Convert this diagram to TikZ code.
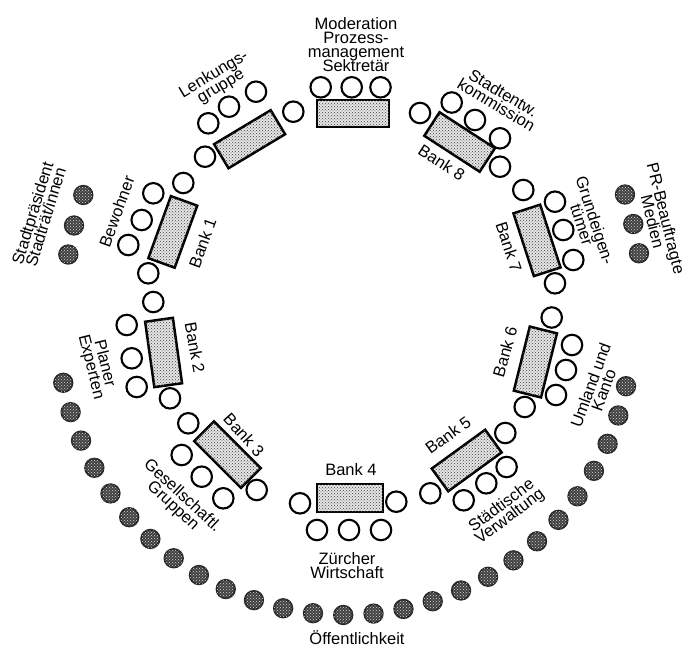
\documentclass[tikz,border=0pt]{standalone}
\usepackage{fontspec}
\setmainfont{Liberation Sans}
\usetikzlibrary{patterns}
\lineskiplimit=-100pt
\begin{document}
\begin{tikzpicture}[x=1pt,y=-1pt,
  chair/.style={circle,draw,line width=2.1pt,minimum size=20.5pt,inner sep=0pt,fill=white},
  pub/.style={circle,draw=black!85,line width=1.8pt,minimum size=18.5pt,inner sep=0pt,fill=black!75,postaction={pattern=crosshatch dots,pattern color=black!15}},
  tbl/.style={rectangle,draw,line width=2.5pt,minimum width=66pt,minimum height=28pt,inner sep=0pt,fill=black!10,postaction={pattern=crosshatch dots,pattern color=black!75}},
  lbl/.style={font=\fontsize{16.5}{13.8}\selectfont,inner sep=0pt,align=center}]
\useasboundingbox (0,0) rectangle (686,648);
\fill[white] (0,0) rectangle (686,648);
% tables
\node[tbl,minimum width=72pt,minimum height=27pt] (mod) at (352.8,113.3) {};
\node[tbl,rotate=31] (lenk) at (249.6,139.2) {};
\node[tbl,rotate=70] (b1) at (172.8,231.9) {};
\node[tbl,rotate=98] (b2) at (163.6,352.5) {};
\node[tbl,rotate=-45] (b3) at (227.5,454.6) {};
\node[tbl] (b4) at (350,498) {};
\node[tbl,rotate=36] (b5) at (466.7,460.5) {};
\node[tbl,rotate=76] (b6) at (535.4,362) {};
\node[tbl,rotate=108] (b7) at (537,240.4) {};
\node[tbl,rotate=-33] (b8) at (459.6,142) {};
% chairs
\foreach \n/\x/\y in {
  m1/320.7/87.3, m2/351.7/87.3, m3/380.5/87.3,
  r1/293.3/111.7, r2/420/113,
  l1/208.3/123.3, l2/229/106.7, l3/256/91.7,
  r3/205/156.7, r4/183.3/183,
  a1/153.3/193.3, a2/141.7/220, a3/128.3/245,
  r5/148.3/273.3, r6/153.3/302,
  c1/126.7/325, c2/131.7/358.3, c3/136.7/387,
  r7/170/398.3, r8/188.3/423.3,
  e1/181.7/455, e2/201.7/476.7, e3/223.3/498.3,
  r9/256.7/490, r10/300/503.3,
  f1/317/530, f2/349/530, f3/381/530,
  r11/396.3/501.7, r12/430.3/493.3,
  g1/463.7/500.3, g2/486.3/483.3, g3/506.6/467,
  r13/505.3/433, r14/524.7/407,
  h1/556/395, h2/566/370, h3/572/345,
  r15/551.7/317.5, r16/555/283.3,
  k1/573.3/260, k2/563.3/230, k3/555/201.7,
  r17/523.3/190, r18/500/166.7,
  n1/500/138.3, n2/475/120, n3/451.7/102.5}
  \node[chair] (\n) at (\x,\y) {};
% public
\foreach \n/\x/\y in {sl1/83.3/195, sl2/74/225.5, sl3/68.3/254.5,
  sr1/625/194.5, sr2/633.3/224, sr3/639/253.3}
  \node[pub] (\n) at (\x,\y) {};
\foreach \i in {0,...,26}{
  \pgfmathsetmacro{\ang}{191+6.05*\i}
  \node[pub] (d\i) at ({345+287*cos(\ang)},{328-287*sin(\ang)}) {};
}
% labels
\node[lbl] (tmod) at (356,44.5) {Moderation\\Prozess-\\management\\Sektretär};
\node[lbl,rotate=31] (tlenk) at (217.5,80.5) {Lenkungs-\\gruppe};
\node[lbl,rotate=-31] (tstadt) at (500,99) {Stadtentw.\\kommission};
\node[lbl,rotate=-33] (tb8) at (441.7,162.5) {Bank 8};
\node[lbl,rotate=73] (tpraes) at (39,215) {Stadtpräsident\\Stadträt/innen};
\node[lbl,rotate=70] (tbew) at (116.7,211.7) {Bewohner};
\node[lbl,rotate=70] (tb1) at (202.5,243) {Bank 1};
\node[lbl,rotate=-80] (tb2) at (195,347.5) {Bank 2};
\node[lbl,rotate=-76] (tplan) at (97.5,365.5) {Planer\\Experten};
\node[lbl,rotate=-48] (tb3) at (244,435) {Bank 3};
\node[lbl,rotate=-43] (tges) at (177.5,501) {Gesellschaftl.\\Gruppen};
\node[lbl] (tb4) at (351,470) {Bank 4};
\node[lbl] (tzw) at (347,565.5) {Zürcher\\Wirtschaft};
\node[lbl,rotate=36] (tb5) at (448,435) {Bank 5};
\node[lbl,rotate=37] (tsv) at (506,511.5) {Städtische\\Verwaltung};
\node[lbl,rotate=74] (tb6) at (505,352) {Bank 6};
\node[lbl,rotate=70] (tuk) at (597,387.5) {Umland und\\Kanto};
\node[lbl,rotate=-72] (tb7) at (509,247) {Bank 7};
\node[lbl,rotate=-72] (tgr) at (588.5,222.5) {Grundeigen-\\tümer};
\node[lbl,rotate=-76] (tpr) at (659.5,220) {PR-Beauftragte\\Medien};
\node[lbl] (toef) at (357,637.5) {Öffentlichkeit};
\end{tikzpicture}
\end{document}
